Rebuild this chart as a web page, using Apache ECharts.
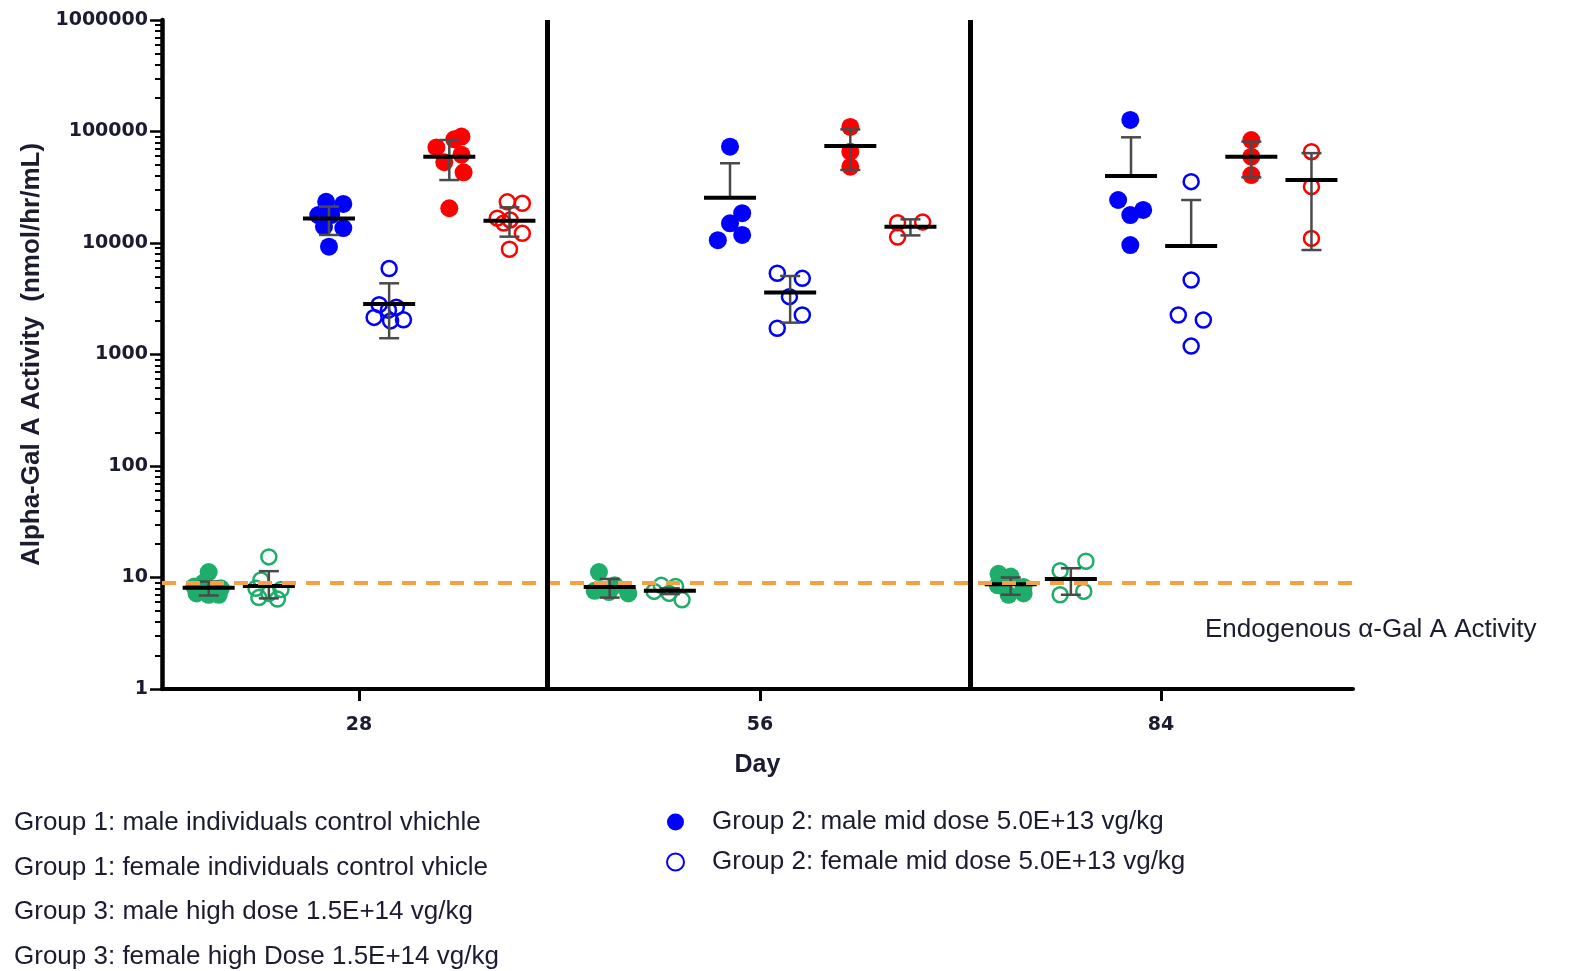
<!DOCTYPE html>
<html>
<head>
<meta charset="utf-8">
<title>Alpha-Gal A Activity</title>
<script src="https://cdn.jsdelivr.net/npm/echarts@6/dist/echarts.min.js"></script>
<style>
  html, body { margin: 0; padding: 0; background: #fff; }
  #chart { width: 1571px; height: 971px; }
</style>
</head>
<body>
<div id="chart"></div>
<script>
// days on the x axis
const days = [28, 56, 84]
const yTickValues = [1, 10, 100, 1000, 10000, 100000, 1000000]
const endogenousLevel = 9
const dividers = [41.13, 70.66]

const groupNames = [
  'Group 1: male individuals control vhichle',
  'Group 1: female individuals control vhicle',
  'Group 2: male mid dose 5.0E+13 vg/kg',
  'Group 2: female mid dose 5.0E+13 vg/kg',
  'Group 3: male high dose 1.5E+14 vg/kg',
  'Group 3: female high Dose 1.5E+14 vg/kg'
]

// individual animals, one list per day (28, 56, 84)
const g1MaleValues = [[11.2, 9.0, 8.3, 8.0, 7.2, 7.0, 7.0], [11.2, 8.5, 7.6, 7.4, 7.2], [10.8, 10.2, 8.5, 8.2, 7.0, 7.2]]
const g1FemaleValues = [[15.3, 9.5, 8.0, 7.8, 7.2, 6.6, 6.4], [8.5, 8.3, 7.5, 7.2, 6.3], [14.0, 11.5, 7.5, 7.0]]
const g2MaleValues = [[23400, 22400, 17800, 17800, 14000, 13600, 9270], [73100, 18500, 15000, 11800, 10600], [127000, 24300, 19800, 17800, 9590]]
const g2FemaleValues = [[5900, 2800, 2650, 2500, 2150, 2050, 2000], [5350, 4820, 3300, 2260, 1720], [35500, 4660, 2260, 2040, 1190]]
const g3MaleValues = [[90000, 85000, 72000, 62000, 53000, 43000, 20500], [110000, 65900, 48300], [83900, 59400, 40700]]
const g3FemaleValues = [[23400, 22700, 16700, 16100, 15100, 12200, 8790], [15200, 15400, 11300], [65900, 32000, 11000]]

// horizontal scatter of the points (x units)
const g1MaleJitter = [[0, -0.35, -1.0, 0.85, -0.85, 0.7, 0], [-0.75, 0.35, -1.05, -0.05, 1.3], [-0.85, 0, -0.9, 0.9, -0.15, 0.9]]
const g1FemaleJitter = [[0, -0.55, -0.9, 0.85, 0, -0.7, 0.6], [-0.6, 0.4, -1.1, -0.05, 0.85], [1.05, -0.75, 0.9, -0.75]]
const g2MaleJitter = [[-0.2, 1.0, -0.75, 0.15, -0.35, 1.0, 0], [0, 0.85, 0, 0.85, -0.85], [-0.05, -0.9, 0.85, -0.05, -0.05]]
const g2FemaleJitter = [[0, -0.7, 0.5, -0.05, -1.05, 1.0, 0.1], [-0.9, 0.85, -0.05, 0.85, -0.9], [0, 0, -0.9, 0.85, 0]]
const g3MaleJitter = [[0.85, 0.35, -0.9, 0.85, -0.35, 1.0, 0], [0, 0, 0], [0, 0, 0]]
const g3FemaleJitter = [[-0.15, 0.9, -0.85, 0.05, -0.4, 0.9, 0], [-0.9, 0.85, -0.9], [0, 0, 0]]

// mean and error bar ends per day (null = no lower bar)
const g1MaleMean = [8.1, 8.2, 8.7], g1MaleLow = [6.9, 6.6, 7.0], g1MaleHigh = [9.2, 9.7, 10.0]
const g1FemaleMean = [8.4, 7.6, 9.7], g1FemaleLow = [6.5, 7.1, 7.0], g1FemaleHigh = [11.4, 8.0, 12.1]
const g2MaleMean = [16600, 25500, 39900], g2MaleLow = [11800, null, null], g2MaleHigh = [21200, 51900, 88700]
const g2FemaleMean = [2840, 3590, 9400], g2FemaleLow = [1400, 1930, null], g2FemaleHigh = [4350, 5060, 24300]
const g3MaleMean = [59400, 74100, 59400], g3MaleLow = [36700, 45200, 38800], g3MaleHigh = [83900, 104500, 81100]
const g3FemaleMean = [15800, 14000, 36700], g3FemaleLow = [11400, 11700, 8650], g3FemaleHigh = [20900, 16300, 64000]

const groups = [
  { values: g1MaleValues, jitter: g1MaleJitter, mean: g1MaleMean, low: g1MaleLow, high: g1MaleHigh },
  { values: g1FemaleValues, jitter: g1FemaleJitter, mean: g1FemaleMean, low: g1FemaleLow, high: g1FemaleHigh },
  { values: g2MaleValues, jitter: g2MaleJitter, mean: g2MaleMean, low: g2MaleLow, high: g2MaleHigh },
  { values: g2FemaleValues, jitter: g2FemaleJitter, mean: g2FemaleMean, low: g2FemaleLow, high: g2FemaleHigh },
  { values: g3MaleValues, jitter: g3MaleJitter, mean: g3MaleMean, low: g3MaleLow, high: g3MaleHigh },
  { values: g3FemaleValues, jitter: g3FemaleJitter, mean: g3FemaleMean, low: g3FemaleLow, high: g3FemaleHigh }
]

const colors = ['#1fad6b', '#1fad6b', '#0000ff', '#0000ff', '#ff0000', '#ff0000']
const filled = [true, false, true, false, true, false]
const shift = [-10.5, -6.3, -2.1, 2.1, 6.3, 10.5]

const minorTicks = []
for (let d = 1; d < 1000000; d *= 10) {
  for (let k = 2; k <= 9; k++) minorTicks.push(k * d)
}

const textColor = '#1c1c30'

const scatterSeries = groups.map((g, gi) => ({
  name: groupNames[gi],
  type: 'scatter',
  z: 2,
  symbol: 'circle',
  symbolSize: filled[gi] ? 18 : 15,
  itemStyle: filled[gi]
    ? { color: colors[gi], opacity: 1 }
    : { color: 'rgba(255,255,255,0)', borderColor: colors[gi], borderWidth: 2.5, opacity: 1 },
  data: days.flatMap((d, di) => g.values[di].map((v, k) => [d + shift[gi] + g.jitter[di][k], v]))
}))

const barData = []
groups.forEach((g, gi) => {
  days.forEach((d, di) => {
    barData.push([d + shift[gi], g.mean[di], g.low[di] == null ? 0 : g.low[di], g.high[di]])
  })
})

// mean line with error bar; lower bar left out where it is missing
const meanSeries = {
  name: 'mean',
  type: 'custom',
  z: 3,
  encode: { x: 0, y: 1 },
  data: barData,
  renderItem: (params, api) => {
    const x = api.value(0)
    const pm = api.coord([x, api.value(1)])
    const ph = api.coord([x, api.value(3)])
    const lo = api.value(2)
    const pl = lo > 0 ? api.coord([x, lo]) : pm
    const err = { stroke: '#4a4a4a', lineWidth: 2.5 }
    const children = [
      { type: 'line', shape: { x1: pm[0], y1: ph[1], x2: pm[0], y2: pl[1] }, style: err },
      { type: 'line', shape: { x1: pm[0] - 10, y1: ph[1], x2: pm[0] + 10, y2: ph[1] }, style: err }
    ]
    if (lo > 0) {
      children.push({ type: 'line', shape: { x1: pm[0] - 10, y1: pl[1], x2: pm[0] + 10, y2: pl[1] }, style: err })
    }
    children.push({ type: 'line', shape: { x1: pm[0] - 26, y1: pm[1], x2: pm[0] + 26, y2: pm[1] }, style: { stroke: '#000', lineWidth: 4 } })
    return { type: 'group', children }
  }
}

const lineSeries = {
  name: 'lines',
  type: 'scatter',
  z: 5,
  data: [],
  markLine: {
    silent: true,
    symbol: 'none',
    animation: false,
    label: { show: false },
    data: [
      { yAxis: endogenousLevel, lineStyle: { color: '#f8a040', width: 4, type: [14, 10] } },
      ...dividers.map(v => ({ xAxis: v, lineStyle: { color: '#000', width: 5, type: 'solid' } }))
    ]
  }
}

const chart = echarts.init(document.getElementById('chart'))

const option = {
  backgroundColor: '#fff',
  animation: false,
  grid: { left: 162, right: 218, top: 20, bottom: 282 },
  xAxis: {
    type: 'value',
    min: 14.24,
    max: 97.4,
    name: 'Day',
    nameLocation: 'middle',
    nameGap: 64,
    nameTextStyle: { fontFamily: 'Liberation Sans', fontWeight: 'bold', fontSize: 25, color: textColor },
    splitLine: { show: false },
    axisLine: { lineStyle: { color: '#000', width: 4 } },
    axisTick: { customValues: days, length: 12, lineStyle: { color: '#000', width: 3 } },
    axisLabel: {
      customValues: days,
      margin: 27,
      fontFamily: 'DejaVu Sans',
      fontWeight: 'bold',
      fontSize: 19,
      color: textColor
    }
  },
  yAxis: [
    {
      type: 'log',
      logBase: 10,
      min: 1,
      max: 1000000,
      name: 'Alpha-Gal A Activity  (nmol/hr/mL)',
      nameLocation: 'middle',
      nameGap: 117,
      nameTextStyle: { fontFamily: 'Liberation Sans', fontWeight: 'bold', fontSize: 26, color: textColor },
      splitLine: { show: false },
      axisLine: { show: true, lineStyle: { color: '#000', width: 4.5 } },
      axisTick: { customValues: yTickValues, length: 12, lineStyle: { color: '#000', width: 2.5 } },
      axisLabel: {
        customValues: yTickValues,
        margin: 14,
        fontFamily: 'DejaVu Sans',
        fontWeight: 'bold',
        fontSize: 19,
        color: textColor,
        formatter: v => String(Math.round(v))
      }
    },
    {
      type: 'log',
      logBase: 10,
      min: 1,
      max: 1000000,
      position: 'left',
      splitLine: { show: false },
      axisLine: { show: false },
      axisLabel: { show: false },
      axisTick: { customValues: minorTicks, length: 7, lineStyle: { color: '#000', width: 2 } }
    }
  ],
  legend: [
    {
      orient: 'vertical',
      left: 9,
      top: 810,
      height: 220,
      padding: 0,
      itemGap: 18.5,
      itemWidth: 0,
      itemHeight: 17,
      icon: 'none',
      selectedMode: false,
      data: [groupNames[0], groupNames[1], groupNames[4], groupNames[5]],
      textStyle: { fontFamily: 'Liberation Sans', fontSize: 26, color: textColor }
    },
    {
      orient: 'vertical',
      left: 666,
      top: 809,
      padding: 0,
      itemGap: 14,
      itemWidth: 17,
      itemHeight: 17,
      selectedMode: false,
      data: [groupNames[2], groupNames[3]],
      textStyle: { fontFamily: 'Liberation Sans', fontSize: 26, color: textColor, padding: [0, 0, 0, 23] }
    }
  ],
  graphic: [
    {
      type: 'text',
      left: 1205,
      top: 617,
      style: {
        text: 'Endogenous \u03b1-Gal A Activity',
        fontFamily: 'Liberation Sans',
        fontSize: 26,
        fill: textColor
      }
    }
  ],
  series: [...scatterSeries, meanSeries, lineSeries]
}

chart.setOption(option)
window.addEventListener('resize', () => chart.resize())
</script>
</body>
</html>
